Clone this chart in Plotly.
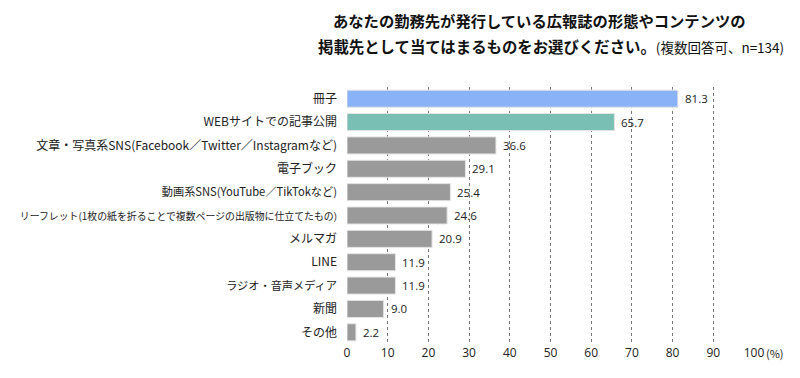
import plotly.graph_objects as go

categories = [
    "冊子",
    "WEBサイトでの記事公開",
    "文章・写真系SNS(Facebook／Twitter／Instagramなど)",
    "電子ブック",
    "動画系SNS(YouTube／TikTokなど)",
    "リーフレット(1枚の紙を折ることで複数ページの出版物に仕立てたもの)",
    "メルマガ",
    "LINE",
    "ラジオ・音声メディア",
    "新聞",
    "その他",
]
values = [81.3, 65.7, 36.6, 29.1, 25.4, 24.6, 20.9, 11.9, 11.9, 9.0, 2.2]
bar_colors = ["#8ab2f6", "#7abfb3"] + ["#9a9a9a"] * 9
tick_vals = [0, 10, 20, 30, 40, 50, 60, 70, 80, 90, 100]
tick_text = [str(v) for v in tick_vals]
title_line1 = "あなたの勤務先が発行している広報誌の形態やコンテンツの"
title_line2 = "掲載先として当てはまるものをお選びください。"
title_note = "(複数回答可、n=134)"

FONT = "Noto Sans CJK JP"

# label font size tweaks (styling only) so long labels fit like the reference
label_size_default = 12
label_size_override = {categories[5]: 9.9, categories[4]: 11.2, categories[8]: 11.2}
label_text = [
    f"<span style='font-size:{label_size_override[c]}px'>{c}</span>" if c in label_size_override else c
    for c in categories
]

fig = go.Figure()
fig.add_trace(go.Bar(
    x=values, y=categories, orientation="h",
    marker=dict(color=bar_colors, line=dict(color="#e4e4e4", width=1)),
    hoverinfo="skip",
))

for c, v in zip(categories, values):
    fig.add_annotation(x=v, y=c, text=f"{v:.1f}", showarrow=False,
                       xanchor="left", xshift=5,
                       font=dict(family="Open Sans", size=11.5, color="#222"))

fig.add_annotation(x=100, y=0, xref="x", yref="paper", yanchor="middle", xanchor="left",
                   yshift=-9, xshift=10, text="(%)", showarrow=False,
                   font=dict(family=FONT, size=11, color="#222"))

fig.add_annotation(x=0.474, y=1.261, xref="paper", yref="paper", xanchor="center",
                   yanchor="middle", showarrow=False, text=title_line1,
                   font=dict(family=FONT, size=15.3, color="#111", weight="bold"))
fig.add_annotation(x=0.5, y=1.16, xref="paper", yref="paper", xanchor="center",
                   yanchor="middle", showarrow=False,
                   text=f"{title_line2}<span style='font-size:13.5px;font-weight:normal'>{title_note}</span>",
                   font=dict(family=FONT, size=15.4, color="#111", weight="bold"))

fig.update_layout(
    width=800, height=378,
    margin=dict(l=339, r=54, t=79, b=42, autoexpand=False),
    plot_bgcolor="white", paper_bgcolor="white",
    bargap=0.27,
    showlegend=False,
    xaxis=dict(
        range=[0, 100], tickvals=tick_vals, ticktext=tick_text,
        showgrid=True, gridcolor="#777", griddash="dot", gridwidth=1,
        zeroline=False, showline=False, ticks="",
        tickfont=dict(family="Open Sans", size=12, color="#222"),
        fixedrange=True, automargin=False,
    ),
    yaxis=dict(
        categoryorder="array", categoryarray=categories[::-1],
        tickvals=categories, ticktext=label_text,
        range=[-0.5, 10.5], ticks="", showgrid=False, zeroline=False,
        tickfont=dict(family=FONT, size=label_size_default, color="#222"),
        ticklabelstandoff=9, automargin=False,
    ),
)

fig.write_html("out.html")
